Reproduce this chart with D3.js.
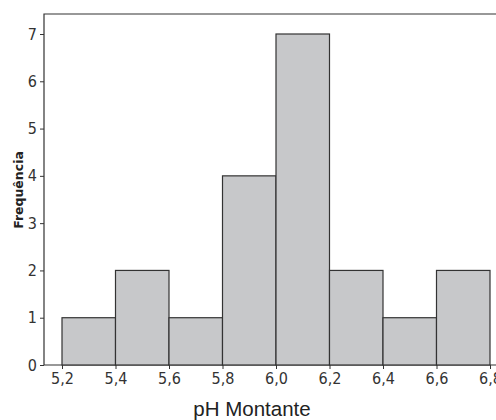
<!DOCTYPE html>
<html>
<head>
<meta charset="utf-8">
<script src="https://cdn.jsdelivr.net/npm/d3@7"></script>
<style>
body{margin:0;background:#fff;}
</style>
</head>
<body>
<main></main>
<script>
const binStarts=[5.2,5.4,5.6,5.8,6.0,6.2,6.4,6.6]
const binWidth=0.2
const counts=[1,2,1,4,7,2,1,2]
const xTicks=["5,2","5,4","5,6","5,8","6,0","6,2","6,4","6,6","6,8"]
const yTicks=[0,1,2,3,4,5,6,7]
const w=496;
const h=420;
const svg=d3.select("main")
            .append("svg")
            .attr("width",w)
            .attr("height",h)
const xScale=d3.scaleLinear()
               .domain([5.2,6.8])
               .range([62,490])
const yScale=d3.scaleLinear()
               .domain([0,7])
               .range([365,34])
const frameLeft=44, frameTop=14, frameBottom=365
// frame (right side runs off the picture)
svg.append("path")
   .attr("d","M"+(w+10)+","+frameTop+"H"+frameLeft+"V"+frameBottom+"H"+(w+10))
   .attr("fill","none")
   .attr("stroke","#333")
   .attr("stroke-width",1.2)
svg.selectAll("rect.bar")
   .data(counts)
   .enter()
   .append("rect")
   .attr("class","bar")
   .attr("x",(d,i)=>xScale(binStarts[i]))
   .attr("y",d=>yScale(d))
   .attr("width",(d,i)=>xScale(binStarts[i]+binWidth)-xScale(binStarts[i]))
   .attr("height",d=>yScale(0)-yScale(d))
   .attr("fill","#c7c8ca")
   .attr("stroke","#333")
   .attr("stroke-width",1.2)
const xAxis=d3.axisBottom(xScale)
              .tickValues(d3.range(xTicks.length).map(i=>5.2+i*0.2))
              .tickFormat((d,i)=>xTicks[i])
              .tickSize(4)
              .tickSizeOuter(0)
const yAxis=d3.axisLeft(yScale)
              .tickValues(yTicks)
              .tickFormat(d3.format("d"))
              .tickSize(4)
              .tickSizeOuter(0)
const gx=svg.append("g")
   .attr("transform","translate(0,"+frameBottom+")")
   .call(xAxis)
gx.select(".domain").remove()
gx.selectAll("line").attr("stroke","#333")
gx.selectAll("text").attr("y",8)
const gy=svg.append("g")
   .attr("transform","translate("+frameLeft+",0)")
   .call(yAxis)
gy.select(".domain").remove()
gy.selectAll("line").attr("stroke","#333")
gy.selectAll("text").attr("x",-7)
svg.selectAll(".tick text")
   .attr("font-family","'Liberation Sans Narrow', 'DejaVu Sans Condensed', sans-serif")
   .attr("font-size",16)
   .attr("fill","#333")
svg.append("text")
   .attr("x",252)
   .attr("y",416)
   .attr("text-anchor","middle")
   .style("font-family","Liberation Sans, Arial, sans-serif")
   .style("font-size","20.5px")
   .attr("fill","#222")
   .text("pH Montante")
svg.append("text")
   .attr("transform","translate(23,"+190+") rotate(-90)")
   .attr("text-anchor","middle")
   .style("font-family","DejaVu Sans, Verdana, sans-serif")
   .style("font-size","12.5px")
   .style("font-weight","bold")
   .attr("fill","#222")
   .text("Frequência")
</script>
</body>
</html>
